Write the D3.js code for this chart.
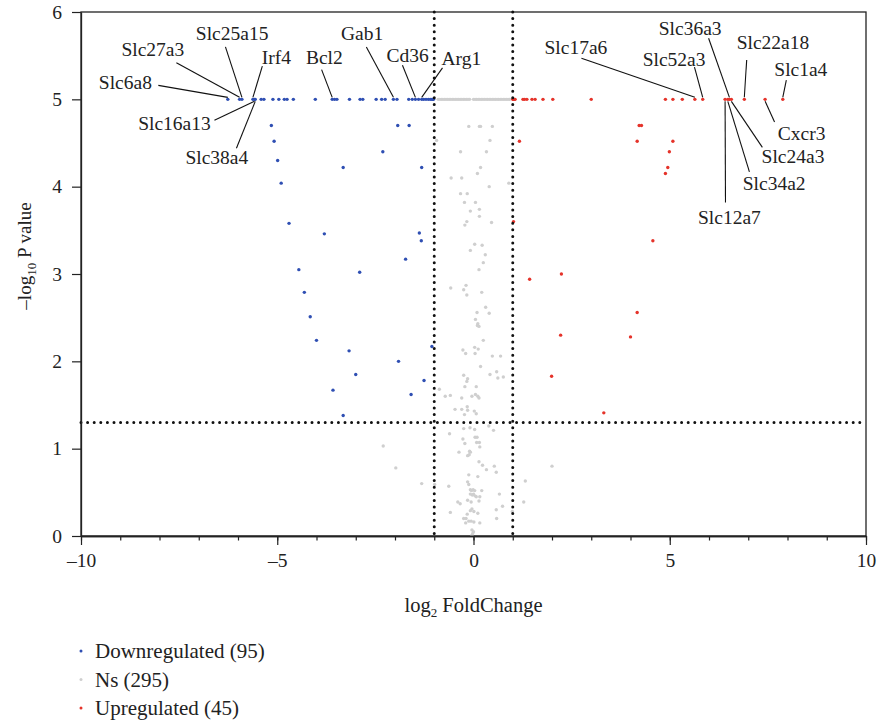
<!DOCTYPE html>
<html>
<head>
<meta charset="utf-8">
<script src="https://cdn.jsdelivr.net/npm/d3@7"></script>
<style>
  body { margin: 0; background: #fff; }
  text { font-family: "Liberation Serif", "DejaVu Serif", serif; fill: #222; }
</style>
</head>
<body>
<script>
// volcano plot: log2 fold change vs -log10 p value

// points, [log2FC, -log10 p]
var downregulated = [
  [-6.26,5],[-5.96,5],[-5.90,5],[-5.62,5],[-5.58,5],[-5.56,5],[-5.41,5],[-5.34,5],
  [-5.11,5],[-4.96,5],[-4.82,5],[-4.75,5],[-4.59,5],[-4.03,5],[-3.60,5],[-3.54,5],
  [-3.48,5],[-3.16,5],[-2.89,5],[-2.82,5],[-2.48,5],[-2.34,5],[-2.25,5],[-2.04,5],
  [-1.95,5],[-1.65,5],[-1.56,5],[-1.48,5],[-1.40,5],[-1.32,5],[-1.27,5],[-1.21,5],
  [-1.15,5],[-1.10,5],[-1.06,5],[-1.04,5],[-1.02,5],
  [-5.15,4.70],[-5.08,4.52],[-4.99,4.30],[-4.90,4.04],[-4.70,3.58],[-4.45,3.05],
  [-4.31,2.79],[-4.16,2.51],[-4.00,2.24],[-3.80,3.46],[-3.32,4.22],[-2.90,3.02],
  [-3.17,2.12],[-3.00,1.85],[-3.58,1.67],[-3.32,1.38],[-2.31,4.40],[-1.93,4.70],
  [-1.64,4.70],[-1.32,4.22],[-1.38,3.47],[-1.33,3.38],[-1.73,3.17],[-1.91,2.00],
  [-1.26,1.78],[-1.59,1.62],[-1.06,2.17]
];

var upregulated = [
  [1.00,5],[1.02,5],[1.04,5],[1.06,5],[1.26,5],[1.30,5],[1.36,5],[1.49,5],[1.57,5],
  [1.77,5],[2.02,5],[3.00,5],[4.89,5],[5.08,5],[5.32,5],[5.64,5],[5.84,5],[6.41,5],
  [6.48,5],[6.52,5],[6.57,5],[6.90,5],[7.43,5],[7.88,5],
  [1.17,4.52],[4.22,4.70],[4.28,4.70],[4.17,4.52],[5.08,4.52],[4.99,4.40],[4.95,4.22],
  [4.89,4.15],[1.02,3.60],[4.57,3.38],[2.24,3.00],[1.43,2.94],[4.17,2.56],[2.22,2.30],
  [4.00,2.28],[1.99,1.83],[3.32,1.41]
];

var ns = [
  [-0.90,5],[-0.86,5],[-0.82,5],[-0.78,5],[-0.74,5],[-0.70,5],[-0.66,5],[-0.62,5],
  [-0.58,5],[-0.54,5],[-0.50,5],[-0.46,5],[-0.42,5],[-0.38,5],[-0.34,5],[-0.30,5],
  [-0.26,5],[-0.22,5],[-0.18,5],[-0.14,5],[-0.10,5],[0.00,5],[0.04,5],[0.08,5],
  [0.12,5],[0.16,5],[0.20,5],[0.24,5],[0.28,5],[0.32,5],[0.36,5],[0.40,5],[0.44,5],
  [0.48,5],[0.52,5],[0.56,5],[0.60,5],[0.64,5],[0.68,5],[0.72,5],[0.76,5],[0.80,5],
  [0.84,5],[0.88,5],[0.92,5],
  [-0.12,4.69],[0.15,4.69],[0.18,4.69],[0.48,4.69],[-0.94,4.53],[0.42,4.53],
  [-0.33,4.40],[0.33,4.40],[0.18,4.22],[0.10,4.15],[-0.57,4.10],[-0.30,4.10],
  [0.90,4.04],[0.40,4.00],[-0.33,3.92],[-0.16,3.92],[-0.23,3.82],[0.05,3.82],
  [0.15,3.74],[-0.08,3.72],[0.15,3.66],[-0.17,3.60],[-0.22,3.56],[0.46,3.59],
  [0.03,3.34],[0.22,3.33],[-0.08,3.27],[0.30,3.22],[0.25,3.13],[0.14,3.05],
  [-0.58,2.84],[-0.19,2.87],[-0.25,2.82],[-0.17,2.76],[0.21,2.79],[0.31,2.62],
  [0.09,2.56],[0.40,2.55],[0.05,2.48],[0.11,2.43],[0.14,2.40],[0.10,2.41],[0.25,2.24],
  [-0.27,2.13],[-0.20,2.09],[0.03,2.16],[0.12,2.14],[0.04,2.09],[0.48,2.06],[0.69,2.06],
  [0.18,1.94],[0.42,1.85],[0.59,1.88],[0.76,1.82],[0.62,1.81],[-0.25,1.84],[-0.15,1.80],
  [-0.17,1.77],[-0.22,1.71],[0.07,1.71],[-0.87,1.68],[-0.72,1.60],[-0.59,1.61],
  [-0.30,1.58],[-0.04,1.60],[0.05,1.62],[0.11,1.60],[0.14,1.58],[-0.47,1.45],
  [-0.30,1.45],[-0.16,1.48],[-0.15,1.44],[-0.23,1.39],[0.02,1.43],[0.07,1.40],
  [0.39,1.26],[0.51,1.21],[-0.25,1.23],[-0.09,1.24],[0.03,1.22],[-0.61,1.17],
  [-0.27,1.11],[0.04,1.13],[0.09,1.13],[-0.22,1.06],[0.08,1.07],[0.15,1.07],[0.16,1.02],
  [-0.10,0.97],[-0.08,0.96],[-0.15,0.92],[-0.11,0.93],[-0.37,0.96],[0.14,0.85],
  [0.23,0.81],[0.53,0.80],[0.33,0.76],[0.58,0.73],[0.11,0.68],[-0.12,0.70],
  [-0.99,0.59],[-0.63,0.57],[-0.15,0.62],[-0.12,0.59],[-0.08,0.53],[-0.05,0.52],
  [-0.01,0.53],[0.03,0.52],[-0.08,0.48],[0.00,0.48],[-0.03,0.47],[0.21,0.52],
  [0.07,0.45],[0.16,0.45],[0.04,0.46],[0.66,0.48],[-0.15,0.41],[-0.06,0.39],
  [-0.40,0.39],[-0.34,0.37],[0.14,0.40],[0.74,0.34],[0.58,0.30],[-0.59,0.27],
  [-0.04,0.31],[0.01,0.28],[-0.08,0.29],[0.11,0.26],[-0.16,0.25],[-0.25,0.20],
  [-0.19,0.20],[-0.12,0.17],[-0.06,0.17],[-0.20,0.15],[0.01,0.16],[0.16,0.15],
  [0.59,0.20],[-0.04,0.07],[0.00,0.05],[-0.02,0.03],[-0.04,0.01],
  [-2.30,1.03],[-1.98,0.78],[2.00,0.80],[1.32,0.63],[1.28,0.39],[0.99,0.28],[-1.32,0.60]
];

// gene labels: point x (at y = 5), text centre and leader start, in data units
var labels = [
  {gene: "Slc6a8",   px: -6.26, lx: -8.87, ly: 5.20, sx: -8.03, sy: 5.16},
  {gene: "Slc27a3",  px: -5.96, lx: -8.17, ly: 5.57, sx: -7.57, sy: 5.42},
  {gene: "Slc25a15", px: -5.90, lx: -6.15, ly: 5.76, sx: -6.32, sy: 5.60},
  {gene: "Irf4",     px: -5.62, lx: -5.02, ly: 5.48, sx: -5.38, sy: 5.38},
  {gene: "Slc16a13", px: -5.58, lx: -7.62, ly: 4.73, sx: -6.60, sy: 4.76},
  {gene: "Slc38a4",  px: -5.56, lx: -6.54, ly: 4.34, sx: -6.04, sy: 4.44},
  {gene: "Bcl2",     px: -3.60, lx: -3.80, ly: 5.48, sx: -3.87, sy: 5.34},
  {gene: "Gab1",     px: -2.04, lx: -2.84, ly: 5.76, sx: -2.73, sy: 5.60},
  {gene: "Cd36",     px: -1.48, lx: -1.68, ly: 5.51, sx: -1.81, sy: 5.39},
  {gene: "Arg1",     px: -1.32, lx: -0.31, ly: 5.47, sx: -0.79, sy: 5.36},
  {gene: "Slc17a6",  px: 5.64,  lx: 2.61,  ly: 5.60, sx: 2.75,  sy: 5.47},
  {gene: "Slc52a3",  px: 5.84,  lx: 5.11,  ly: 5.46, sx: 5.63,  sy: 5.37},
  {gene: "Slc36a3",  px: 6.52,  lx: 5.52,  ly: 5.82, sx: 5.99,  sy: 5.70},
  {gene: "Slc22a18", px: 6.90,  lx: 7.63,  ly: 5.65, sx: 6.96,  sy: 5.45},
  {gene: "Slc1a4",   px: 7.88,  lx: 8.34,  ly: 5.35, sx: 7.97,  sy: 5.22},
  {gene: "Cxcr3",    px: 7.43,  lx: 8.36,  ly: 4.61, sx: 7.67,  sy: 4.74},
  {gene: "Slc24a3",  px: 6.57,  lx: 8.14,  ly: 4.35, sx: 7.36,  sy: 4.45},
  {gene: "Slc34a2",  px: 6.48,  lx: 7.66,  ly: 4.04, sx: 7.03,  sy: 4.17},
  {gene: "Slc12a7",  px: 6.41,  lx: 6.52,  ly: 3.65, sx: 6.42,  sy: 3.82}
];

var legendItems = ["Downregulated (95)", "Ns (295)", "Upregulated (45)"];
var legendColors = ["#2f4fb3", "#cfcfcf", "#e5332a"];

var width = 880, height = 723;
var x = d3.scaleLinear().domain([-10, 10]).range([81, 866]);
var y = d3.scaleLinear().domain([0, 6]).range([536, 12]);

var svg = d3.select("body").append("svg")
  .attr("width", width)
  .attr("height", height);

// frame (top + right)
svg.append("rect")
  .attr("x", x(-10)).attr("y", y(6))
  .attr("width", x(10) - x(-10)).attr("height", y(0) - y(6))
  .attr("fill", "none").attr("stroke", "#222").attr("stroke-width", 1.3);

function drawPoints(data, color) {
  svg.append("g").selectAll("circle")
    .data(data)
    .enter()
    .append("circle")
    .attr("cx", function(d) { return x(d[0]); })
    .attr("cy", function(d) { return y(d[1]); })
    .attr("r", 1.7)
    .attr("fill", color);
}
drawPoints(ns, legendColors[1]);
drawPoints(downregulated, legendColors[0]);
drawPoints(upregulated, legendColors[2]);

// threshold lines
var dotted = svg.append("g")
  .attr("stroke", "#111")
  .attr("stroke-width", 3)
  .attr("stroke-linecap", "round")
  .attr("stroke-dasharray", "0,6.6");
[-1, 1].forEach(function(v) {
  dotted.append("line")
    .attr("x1", x(v)).attr("x2", x(v))
    .attr("y1", y(6)).attr("y2", y(0));
});
dotted.append("line")
  .attr("x1", x(-10)).attr("x2", x(10))
  .attr("y1", y(-Math.log10(0.05))).attr("y2", y(-Math.log10(0.05)));

// axes
svg.append("g")
  .attr("transform", "translate(0," + y(0) + ")")
  .call(d3.axisBottom(x).tickValues(d3.range(-10, 11, 1)).tickSize(4.5).tickSizeOuter(0).tickFormat(""));
var xMajor = svg.append("g")
  .attr("transform", "translate(0," + y(0) + ")")
  .call(d3.axisBottom(x).tickValues([-10, -5, 0, 5, 10]).tickSize(9).tickSizeOuter(0).tickPadding(8)
    .tickFormat(function(d) { return d < 0 ? "\u2013" + Math.abs(d) : d; }));
var yAxis = svg.append("g")
  .attr("transform", "translate(" + x(-10) + ",0)")
  .call(d3.axisLeft(y).ticks(6).tickSize(9).tickSizeOuter(0).tickPadding(10));

svg.selectAll(".domain").attr("stroke", "#222").attr("stroke-width", 1.3);
svg.selectAll(".tick line").attr("stroke", "#222").attr("stroke-width", 1.2);
svg.selectAll(".tick text")
  .style("font-family", "Liberation Serif")
  .style("font-size", "19.5px")
  .attr("fill", "#222");

// axis titles
var xt = svg.append("text")
  .attr("transform", "translate(" + x(0) + ",612)")
  .attr("text-anchor", "middle")
  .style("font-size", "20.5px");
xt.append("tspan").text("log");
xt.append("tspan").attr("dy", 5).style("font-size", "13px").text("2");
xt.append("tspan").attr("dy", -5).text(" FoldChange");

var yt = svg.append("text")
  .attr("transform", "translate(31,256) rotate(-90)")
  .attr("text-anchor", "middle")
  .style("font-size", "19px");
yt.append("tspan").text("\u2013log");
yt.append("tspan").attr("dy", 5).style("font-size", "13px").text("10");
yt.append("tspan").attr("dy", -5).text(" P value");

// gene labels with leader lines
var lab = svg.append("g");
lab.selectAll("line")
  .data(labels)
  .enter()
  .append("line")
  .attr("x1", function(d) { return x(d.sx); })
  .attr("y1", function(d) { return y(d.sy); })
  .attr("x2", function(d) { return x(d.px); })
  .attr("y2", function(d) { return y(5) + (d.sy > 5 ? -2 : 2); })
  .attr("stroke", "#111")
  .attr("stroke-width", 1.1);
lab.selectAll("text")
  .data(labels)
  .enter()
  .append("text")
  .attr("x", function(d) { return x(d.lx); })
  .attr("y", function(d) { return y(d.ly); })
  .attr("dy", "0.35em")
  .attr("text-anchor", "middle")
  .style("font-size", "19.5px")
  .text(function(d) { return d.gene; });

// legend
var legend = svg.selectAll(".legend")
  .data(legendItems)
  .enter()
  .append("g")
  .attr("class", "legend")
  .attr("transform", function(d, i) { return "translate(" + x(-10) + "," + (651 + i * 28.5) + ")"; });
legend.append("circle")
  .attr("r", 1.5)
  .attr("fill", function(d, i) { return legendColors[i]; });
legend.append("text")
  .attr("x", 14)
  .attr("dy", "0.35em")
  .style("font-size", "21px")
  .text(function(d) { return d; });
</script>
</body>
</html>
